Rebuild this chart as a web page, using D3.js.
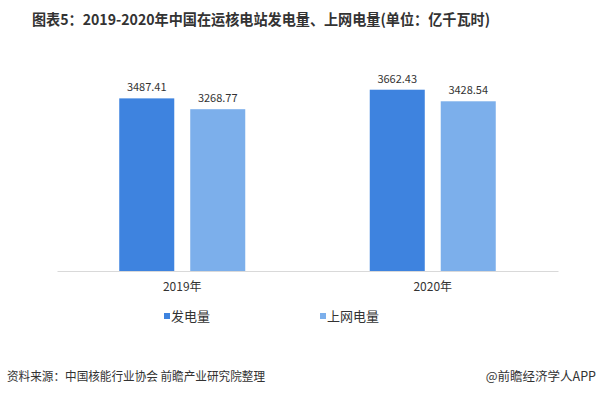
<!DOCTYPE html>
<html>
<head>
<meta charset="utf-8">
<script src="https://cdn.jsdelivr.net/npm/d3@7"></script>
<style>
	body { margin: 0; background: #fff; }
	svg { display: block; font-family: "Noto Sans CJK SC", "Microsoft YaHei", sans-serif; }
</style>
</head>
<body>
<svg id="chart"></svg>
<script>
// chart data
var years = ['2019年', '2020年'];
var seriesNames = ['发电量', '上网电量'];
var generated = [3487.41, 3662.43];
var onGrid = [3268.77, 3428.54];

var title = '图表5：2019-2020年中国在运核电站发电量、上网电量(单位：亿千瓦时)';
var source = '资料来源：中国核能行业协会 前瞻产业研究院整理';
var credit = '@前瞻经济学人APP';

var width = 600, height = 395;
var colors = ['#3e83df', '#7cafeb'];

var svg = d3.select('#chart')
	.attr('width', width)
	.attr('height', height);

// title
svg.append('text')
	.attr('x', 32)
	.attr('y', 25)
	.attr('font-size', 15)
	.attr('font-weight', 'bold')
	.attr('fill', '#333')
	.attr('textLength', 458)
	.attr('lengthAdjust', 'spacingAndGlyphs')
	.text(title);

// scales
var x0 = d3.scaleBand()
	.domain(years)
	.range([57, 558]);
var x1 = d3.scaleBand()
	.domain(seriesNames)
	.range([0, 126])
	.paddingInner(0.225);
var y = d3.scaleLinear()
	.domain([0, 4000])
	.range([271, 73]);

var rows = years.map(function(yr, i) {
	return { year: yr, values: [generated[i], onGrid[i]] };
});

// bars
var groups = svg.append('g').selectAll('g')
	.data(rows)
	.enter().append('g')
	.attr('transform', function(d) {
		return 'translate(' + (x0(d.year) + x0.bandwidth() / 2 - 63) + ',0)';
	});

groups.selectAll('rect')
	.data(function(d) { return d.values; })
	.enter().append('rect')
	.attr('x', function(d, i) { return x1(seriesNames[i]); })
	.attr('width', x1.bandwidth())
	.attr('y', function(d) { return y(d); })
	.attr('height', function(d) { return y(0) - y(d); })
	.attr('fill', function(d, i) { return colors[i]; });

groups.selectAll('text')
	.data(function(d) { return d.values; })
	.enter().append('text')
	.attr('x', function(d, i) { return x1(seriesNames[i]) + x1.bandwidth() / 2; })
	.attr('y', function(d) { return y(d) - 7; })
	.attr('text-anchor', 'middle')
	.attr('font-size', 11)
	.attr('fill', '#333')
	.text(function(d) { return d.toFixed(2); });

// x axis
var xAxis = svg.append('g')
	.attr('transform', 'translate(0,' + y(0) + ')')
	.call(d3.axisBottom(x0).tickSize(0).tickPadding(11));
xAxis.select('.domain').attr('stroke', '#d9d9d9');
xAxis.selectAll('text')
	.attr('font-size', 12)
	.attr('fill', '#333')
	.attr('font-family', '"Noto Sans CJK SC", sans-serif');

// legend
var legendX = [164, 320];
var legend = svg.append('g').selectAll('g')
	.data(seriesNames)
	.enter().append('g')
	.attr('transform', function(d, i) { return 'translate(' + legendX[i] + ',316)'; });
legend.append('rect')
	.attr('x', 0)
	.attr('y', -3)
	.attr('width', 6)
	.attr('height', 6)
	.attr('fill', function(d, i) { return colors[i]; });
legend.append('text')
	.attr('x', 7)
	.attr('y', 5)
	.attr('font-size', 13)
	.attr('fill', '#333')
	.text(function(d) { return d; });

// footer
svg.append('text')
	.attr('x', 7)
	.attr('y', 381)
	.attr('font-size', 12.5)
	.attr('fill', '#333')
	.attr('textLength', 258)
	.attr('lengthAdjust', 'spacingAndGlyphs')
	.text(source);
svg.append('text')
	.attr('x', 596)
	.attr('y', 381)
	.attr('text-anchor', 'end')
	.attr('font-size', 12.5)
	.attr('fill', '#333')
	.text(credit);
</script>
</body>
</html>
